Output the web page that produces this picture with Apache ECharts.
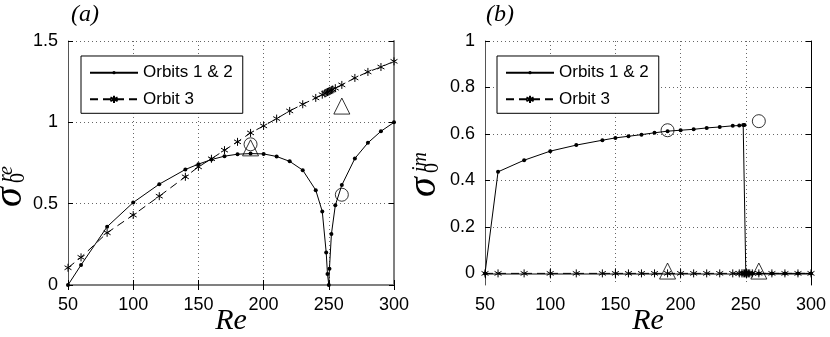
<!DOCTYPE html>
<html>
<head>
<meta charset="utf-8">
<script src="https://cdn.jsdelivr.net/npm/echarts@6/dist/echarts.min.js"></script>
<style>
html, body { margin: 0; padding: 0; background: #fff; }
#main { width: 830px; height: 337px; }
</style>
</head>
<body>
<div id="main"></div>
<script>
// Orbits 1 & 2 (solid line, dots)
var re12 = [50, 60, 80, 100, 120, 140, 150, 160, 170, 180, 190, 200, 210, 220, 230, 240, 245, 248, 249, 250, 250.5, 252, 255, 260, 270, 280, 290, 300];
var sigmaRe12 = [0, 0.123, 0.358, 0.507, 0.62, 0.71, 0.743, 0.771, 0.792, 0.804, 0.808, 0.806, 0.79, 0.76, 0.706, 0.583, 0.452, 0.2, 0.067, 0, 0.1, 0.313, 0.49, 0.614, 0.778, 0.874, 0.945, 1.0];
var sigmaIm12 = [0, 0.437, 0.487, 0.526, 0.552, 0.573, 0.583, 0.59, 0.597, 0.605, 0.612, 0.616, 0.62, 0.626, 0.63, 0.635, 0.636, 0.638, 0.639, 0, 0, 0, 0, 0, 0, 0, 0, 0];
// Orbit 3 (dashed line, asterisks)
var re3 = [50, 60, 80, 100, 120, 140, 150, 160, 170, 180, 190, 200, 210, 220, 230, 240, 245, 247, 248, 249, 250, 251, 252, 253, 255, 260, 270, 280, 290, 300];
var sigmaRe3 = [0.106, 0.17, 0.321, 0.43, 0.546, 0.665, 0.726, 0.776, 0.829, 0.88, 0.935, 0.978, 1.023, 1.07, 1.111, 1.15, 1.17, 1.178, 1.182, 1.186, 1.19, 1.194, 1.198, 1.202, 1.21, 1.23, 1.273, 1.31, 1.34, 1.375];
var sigmaIm3 = [0, 0, 0, 0, 0, 0, 0, 0, 0, 0, 0, 0, 0, 0, 0, 0, 0, 0, 0, 0, 0, 0, 0, 0, 0, 0, 0, 0, 0, 0];
// big open markers
var markRe = [190, 260];
var circleRe = [0.865, 0.555];
var triangleRe = [0.843, 1.10];
var circleIm = [0.616, 0.655];
var triangleIm = [0.01, 0.01];
var imTicks = [0, 0.2, 0.4, 0.6, 0.8, 1];

var ASTERISK = 'path://M5,0L5,10M0.67,2.5L9.33,7.5M0.67,7.5L9.33,2.5';
var SANS = 'Liberation Sans';
var SERIF = 'Liberation Serif';

function zip(xs, ys) {
    return xs.map(function (x, i) { return [x, ys[i]]; });
}

function bottomAxis(gi) {
    return {
        type: 'value', gridIndex: gi, position: 'bottom', min: 50, max: 300, interval: 50,
        name: 'Re', nameLocation: 'middle', nameGap: 21, nameMoveOverlap: false,
        nameTextStyle: { fontFamily: SERIF, fontStyle: 'italic', fontSize: 30, color: '#000', verticalAlign: 'top' },
        axisLine: { lineStyle: { color: '#808080', width: 2 } },
        axisTick: { inside: true, length: 5, lineStyle: { color: '#000' } },
        axisLabel: { fontFamily: SANS, fontSize: 18, color: '#000', margin: 11 },
        splitLine: { show: true, lineStyle: { color: '#666', type: [1, 3] } }
    };
}
function topAxis(gi) {
    return {
        type: 'value', gridIndex: gi, position: 'top', min: 50, max: 300, interval: 50,
        axisLine: { lineStyle: { color: '#808080', width: 2 } },
        axisTick: { inside: true, length: 5, lineStyle: { color: '#000' } },
        axisLabel: { show: false }, splitLine: { show: false }
    };
}

var lineSeries = function (name, xi, yi, data, dashed) {
    var s = {
        name: name, type: 'line', xAxisIndex: xi, yAxisIndex: yi, data: data,
        showSymbol: true, showAllSymbol: true, z: dashed ? 3 : 4,
        lineStyle: { color: '#000', width: 1, type: dashed ? [8, 5] : 'solid' }
    };
    if (dashed) {
        s.symbol = ASTERISK; s.symbolSize = 8; s.symbolKeepAspect = true;
        s.itemStyle = { color: 'rgba(0,0,0,0)', borderColor: '#000', borderWidth: 1 };
    } else {
        s.symbol = 'circle'; s.symbolSize = 4;
        s.itemStyle = { color: '#000' };
    }
    return s;
};
var openMarks = function (symbol, size, xi, yi, ys) {
    return {
        type: 'scatter', xAxisIndex: xi, yAxisIndex: yi, data: zip(markRe, ys),
        symbol: symbol, symbolSize: size, z: 5,
        itemStyle: { color: 'rgba(0,0,0,0)', borderColor: '#000', borderWidth: 1 }
    };
};
// each legend row is its own legend so the two icons can have different sizes;
// the first one draws the framed box round both rows
var legendRow = function (left, name, first) {
    return {
        left: left, top: first ? 56 : 82.6, orient: 'vertical', z: first ? 4 : 5,
        data: [name],
        itemWidth: 48, itemHeight: first ? 4 : 9,
        padding: first ? [8.2, 10, 32.1, 8] : [8.2, 10, 5.5, 8],
        borderColor: first ? '#000' : 'transparent', borderWidth: first ? 1 : 0,
        backgroundColor: first ? '#fff' : 'transparent',
        textStyle: { fontFamily: SANS, fontSize: 17, color: '#000' }
    };
};
// rotated sigma_0^{..} label, x = centre of the sigma body, y = where it starts
var yName = function (x, y, sup) {
    return {
        type: 'group', x: x, y: y, rotation: Math.PI / 2,
        children: [
            { type: 'text', x: 0, y: -4, style: { text: 'σ', font: 'italic 40px ' + SERIF, fill: '#000', verticalAlign: 'middle' } },
            { type: 'text', x: 24, y: 4, style: { text: '0', font: '20px ' + SERIF, fill: '#000', verticalAlign: 'middle' } },
            { type: 'text', x: 25, y: -8, style: { text: sup, font: 'italic 20px ' + SERIF, fill: '#000', verticalAlign: 'middle' } }
        ]
    };
};

var chart = echarts.init(document.getElementById('main'));
chart.setOption({
    animation: false,
    backgroundColor: '#fff',
    grid: [
        { left: 68, top: 41, width: 326, height: 244, outerBoundsMode: 'none' },
        { left: 485, top: 41, width: 326, height: 244, outerBoundsMode: 'none' }
    ],
    xAxis: [bottomAxis(0), topAxis(0), bottomAxis(1), topAxis(1)],
    yAxis: [
        {
            type: 'value', gridIndex: 0, position: 'left', min: 0, max: 1.5, interval: 0.5,
            axisLine: { lineStyle: { color: '#555', width: 1 } },
            axisTick: { inside: true, length: 5, lineStyle: { color: '#000' } },
            axisLabel: { fontFamily: SANS, fontSize: 18, color: '#000', margin: 10 },
            splitLine: { show: true, lineStyle: { color: '#666', type: [1, 3] } }
        },
        {
            type: 'value', gridIndex: 0, position: 'right', min: 0, max: 1.5, interval: 0.5,
            axisLine: { show: true, lineStyle: { color: '#808080', width: 2 } },
            axisTick: { inside: true, length: 5, lineStyle: { color: '#000' } },
            axisLabel: { show: false }, splitLine: { show: false }
        },
        {
            type: 'value', gridIndex: 1, position: 'left', min: -0.05, max: 1,
            axisLine: { lineStyle: { color: '#555', width: 1 } },
            axisTick: { inside: true, length: 5, customValues: imTicks, lineStyle: { color: '#000' } },
            axisLabel: { fontFamily: SANS, fontSize: 18, color: '#000', margin: 10, customValues: imTicks },
            splitLine: { show: true, lineStyle: { color: '#666', type: [1, 3] } }
        },
        {
            type: 'value', gridIndex: 1, position: 'right', min: -0.05, max: 1,
            axisLine: { show: true, lineStyle: { color: '#000', width: 1 } },
            axisTick: { inside: true, length: 5, customValues: imTicks, lineStyle: { color: '#000' } },
            axisLabel: { show: false }, splitLine: { show: false }
        }
    ],
    legend: [
        legendRow(81, 'Orbits 1 & 2', true), legendRow(81, 'Orbit 3', false),
        legendRow(497, 'Orbits 1 & 2', true), legendRow(497, 'Orbit 3', false)
    ],
    series: [
        lineSeries('Orbit 3', 0, 0, zip(re3, sigmaRe3), true),
        lineSeries('Orbits 1 & 2', 0, 0, zip(re12, sigmaRe12), false),
        openMarks('circle', 13, 0, 0, circleRe),
        openMarks('triangle', 16, 0, 0, triangleRe),
        lineSeries('Orbit 3', 2, 2, zip(re3, sigmaIm3), true),
        lineSeries('Orbits 1 & 2', 2, 2, zip(re12, sigmaIm12), false),
        openMarks('circle', 13, 2, 2, circleIm),
        openMarks('triangle', 16, 2, 2, triangleIm)
    ],
    graphic: [
        { type: 'text', x: 85, y: 15, style: { text: '(a)', font: 'italic 24px ' + SERIF, fill: '#000', align: 'center', verticalAlign: 'middle' } },
        { type: 'text', x: 500, y: 15, style: { text: '(b)', font: 'italic 24px ' + SERIF, fill: '#000', align: 'center', verticalAlign: 'middle' } },
        yName(14.5, 207, 're'),
        yName(428.5, 197, 'im')
    ]
});
</script>
</body>
</html>
